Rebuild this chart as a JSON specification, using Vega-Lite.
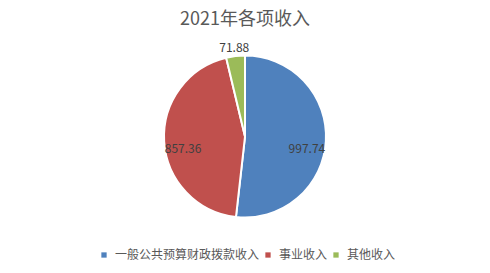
{
  "$schema": "https://vega.github.io/schema/vega-lite/v6.json",
  "width": 490,
  "height": 273,
  "padding": 0,
  "autosize": {"type": "fit", "contains": "padding"},
  "background": "#ffffff",
  "config": {
    "view": {"stroke": "#d9d9d9", "strokeWidth": 1},
    "font": "Noto Sans CJK SC"
  },
  "title": {
    "text": "2021年各项收入",
    "fontSize": 18,
    "fontWeight": "normal",
    "color": "#595959",
    "font": "Noto Sans CJK SC",
    "anchor": "middle",
    "frame": "group",
    "offset": -29
  },
  "data": {
    "values": [
      {"category": "一般公共预算财政拨款收入", "value": 997.74},
      {"category": "事业收入", "value": 857.36},
      {"category": "其他收入", "value": 71.88}
    ]
  },
  "encoding": {
    "theta": {"field": "value", "type": "quantitative", "stack": true},
    "order": {"field": "category", "sort": "ascending"}
  },
  "layer": [
    {
      "mark": {"type": "arc", "outerRadius": 81, "stroke": "#ffffff", "strokeWidth": 2},
      "encoding": {
        "color": {
          "field": "category",
          "type": "nominal",
          "scale": {
            "domain": ["一般公共预算财政拨款收入", "事业收入", "其他收入"],
            "range": ["#4F81BD", "#C0504D", "#9BBB59"]
          },
          "legend": {
            "orient": "none",
            "direction": "horizontal",
            "legendX": 98,
            "legendY": 249,
            "title": null,
            "symbolType": "square",
            "symbolSize": 28,
            "symbolStrokeWidth": 0,
            "labelFontSize": 12,
            "labelColor": "#595959",
            "labelFont": "Noto Sans CJK SC",
            "columnPadding": 2,
            "symbolOffset": 0,
            "labelOffset": 5
          }
        }
      }
    },
    {
      "mark": {"type": "text", "radius": 62, "dy": 9, "fontSize": 12, "fill": "#404040", "font": "Noto Sans CJK SC"},
      "encoding": {
        "text": {"field": "value", "type": "quantitative", "format": ".2f"},
        "opacity": {"condition": {"test": "datum.category !== '其他收入'", "value": 1}, "value": 0}
      }
    },
    {
      "mark": {"type": "text", "radius": 92, "dy": 3, "fontSize": 12, "fill": "#404040", "font": "Noto Sans CJK SC"},
      "encoding": {
        "text": {"field": "value", "type": "quantitative", "format": ".2f"},
        "opacity": {"condition": {"test": "datum.category === '其他收入'", "value": 1}, "value": 0}
      }
    }
  ]
}
